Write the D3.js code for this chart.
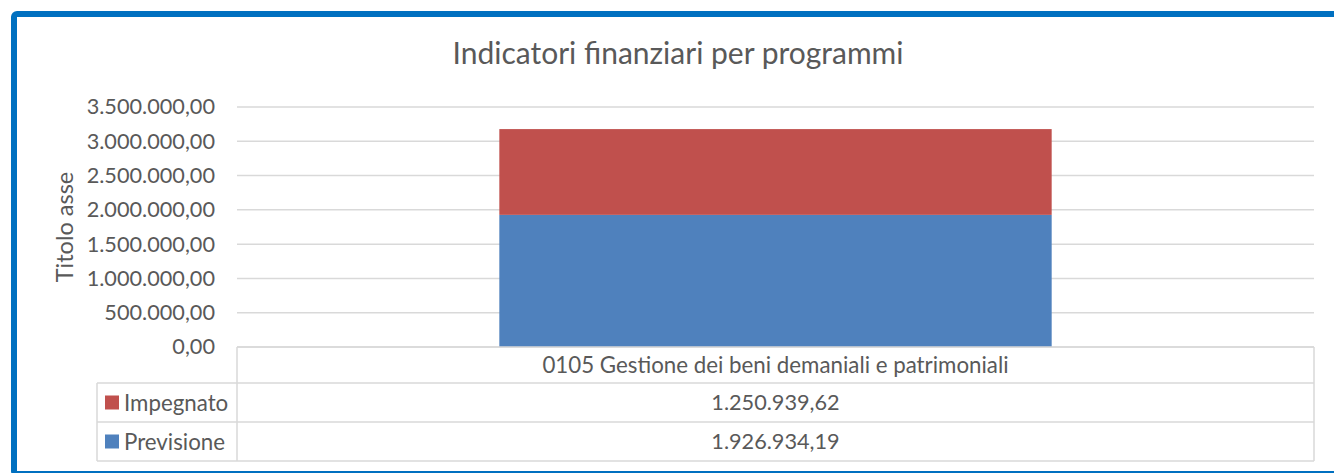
<!DOCTYPE html>
<html>
<head>
<meta charset="utf-8">
<script src="https://cdn.jsdelivr.net/npm/d3@7"></script>
<style>
  html, body { margin: 0; padding: 0; background: #fff; }
  svg { display: block; }
  text { font-family: Lato, "Open Sans", sans-serif; fill: #595959; }
</style>
</head>
<body>
<svg id="chart" width="1334" height="473"></svg>
<script>
// ---- data ----
const title = "Indicatori finanziari per programmi";
const axisTitle = "Titolo asse";
const categories = ["0105 Gestione dei beni demaniali e patrimoniali"];
const seriesNames = ["Previsione", "Impegnato"];
const previsione = [1926934.19];
const impegnato = [1250939.62];
const seriesColors = ["#4F81BD", "#C0504D"];
const yTicks = [0, 500000, 1000000, 1500000, 2000000, 2500000, 3000000, 3500000];

// ---- layout ----
const W = 1334, H = 473;
const plot = { left: 237, right: 1314, top: 107, bottom: 347 };
const tableLeft = 97;
const rowH = [36, 39, 39];

const it = d3.formatLocale({ decimal: ",", thousands: ".", grouping: [3], currency: ["", "€"] });
const fmt = it.format(",.2f");

const svg = d3.select("#chart");

// outer border
svg.append("rect")
  .attr("x", 14).attr("y", 14)
  .attr("width", W + 20).attr("height", 460)
  .attr("rx", 3)
  .attr("fill", "#fff")
  .attr("stroke", "#0070C0").attr("stroke-width", 6);

// title
svg.append("text")
  .attr("x", 678).attr("y", 64)
  .attr("text-anchor", "middle")
  .style("font-size", "30px")
  .text(title);

const y = d3.scaleLinear().domain([0, 3500000]).range([plot.bottom, plot.top]);
const x = d3.scaleBand().domain(categories).range([plot.left, plot.right])
  .paddingInner(0.322).paddingOuter(0.322);

// gridlines
svg.append("g").selectAll("line").data(yTicks).join("line")
  .attr("x1", plot.left).attr("x2", plot.right)
  .attr("y1", d => y(d)).attr("y2", d => y(d))
  .attr("stroke", "#d9d9d9").attr("stroke-width", 1.5);

// y axis labels
const yAxis = d3.axisLeft(y).tickValues(yTicks).tickFormat(fmt).tickSize(0).tickPadding(0);
const gy = svg.append("g").attr("transform", "translate(215,0)").call(yAxis);
gy.select(".domain").remove();
gy.selectAll("text")
  .style("font-size", "21.7px").style("font-family", "Lato, 'Open Sans', sans-serif")
  .attr("fill", "#595959");

// axis title
svg.append("text")
  .attr("transform", `translate(73,${(plot.top + plot.bottom) / 2}) rotate(-90)`)
  .attr("text-anchor", "middle")
  .style("font-size", "23.5px")
  .text(axisTitle);

// stacked bars
const rows = categories.map((c, i) => ({ cat: c, Previsione: previsione[i], Impegnato: impegnato[i] }));
const stack = d3.stack().keys(seriesNames)(rows);
svg.append("g").selectAll("g").data(stack).join("g")
  .attr("fill", (d, i) => seriesColors[i])
  .selectAll("rect").data(d => d).join("rect")
  .attr("x", d => x(d.data.cat))
  .attr("width", x.bandwidth())
  .attr("y", d => y(d[1]))
  .attr("height", d => y(d[0]) - y(d[1]));

// data table
const rowTops = [plot.bottom, plot.bottom + rowH[0], plot.bottom + rowH[0] + rowH[1]];
const tableBottom = rowTops[2] + rowH[2];
const tg = svg.append("g").attr("stroke", "#d9d9d9").attr("stroke-width", 1.5);
tg.append("line").attr("x1", plot.left).attr("x2", plot.right).attr("y1", rowTops[0]).attr("y2", rowTops[0]);
[rowTops[1], rowTops[2], tableBottom].forEach(yy => {
  tg.append("line").attr("x1", tableLeft).attr("x2", plot.right).attr("y1", yy).attr("y2", yy);
});
tg.append("line").attr("x1", tableLeft).attr("x2", tableLeft).attr("y1", rowTops[1]).attr("y2", tableBottom);
tg.append("line").attr("x1", plot.left).attr("x2", plot.left).attr("y1", rowTops[0]).attr("y2", tableBottom);
tg.append("line").attr("x1", plot.right).attr("x2", plot.right).attr("y1", rowTops[0]).attr("y2", tableBottom);

// category label
categories.forEach(c => {
  svg.append("text")
    .attr("x", x(c) + x.bandwidth() / 2).attr("y", rowTops[0] + rowH[0] / 2)
    .attr("dy", "0.36em").attr("text-anchor", "middle")
    .style("font-size", "22.3px").text(c);
});

// table rows: Impegnato then Previsione
const tableSeries = [
  { name: "Impegnato", values: impegnato, color: seriesColors[1], top: rowTops[1], h: rowH[1] },
  { name: "Previsione", values: previsione, color: seriesColors[0], top: rowTops[2], h: rowH[2] }
];
tableSeries.forEach(s => {
  const cy = s.top + s.h / 2;
  svg.append("rect").attr("x", 105).attr("y", cy - 7).attr("width", 14).attr("height", 14).attr("fill", s.color);
  svg.append("text").attr("x", 124).attr("y", cy).attr("dy", "0.36em")
    .style("font-size", "22.3px").text(s.name);
  categories.forEach((c, i) => {
    svg.append("text")
      .attr("x", x(c) + x.bandwidth() / 2).attr("y", cy).attr("dy", "0.36em")
      .attr("text-anchor", "middle")
      .style("font-size", "21.7px").text(fmt(s.values[i]));
  });
});
</script>
</body>
</html>
